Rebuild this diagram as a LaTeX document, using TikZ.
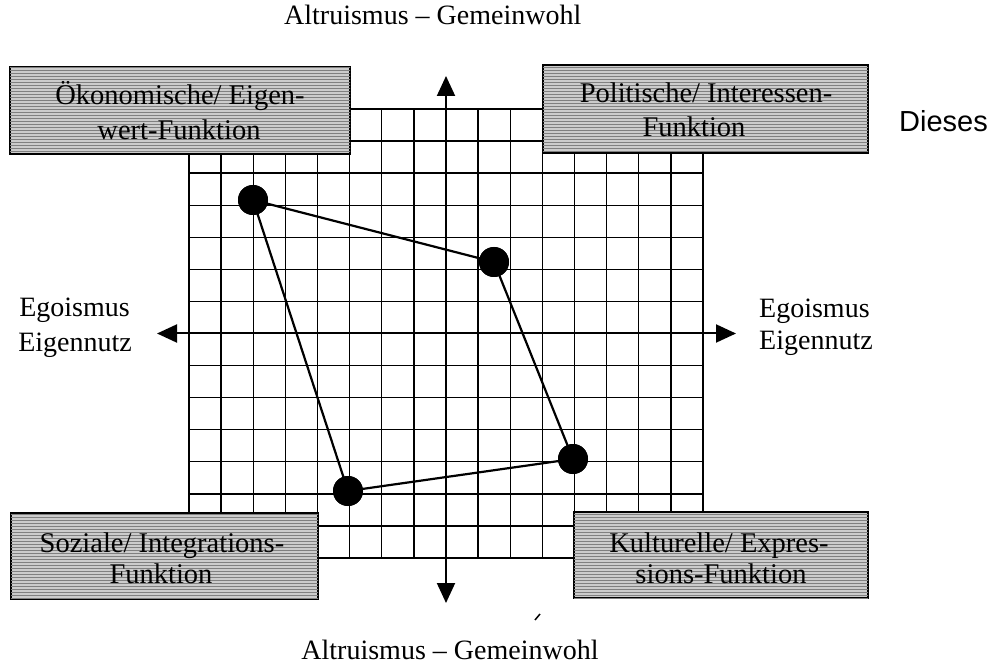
\documentclass[tikz,border=0pt]{standalone}
\usepackage{fontspec}
\setmainfont{Liberation Serif}
\newfontfamily\arialfont{Liberation Sans}
\usetikzlibrary{arrows.meta,patterns}
\begin{document}
\begin{tikzpicture}[x=1pt,y=-1pt,
  gridline/.style={line width=1.4pt,black},
  gridborder/.style={line width=1.9pt,black},
  axisline/.style={line width=2pt,black,{Triangle[length=20pt,width=18pt]}-{Triangle[length=20pt,width=18pt]}},
  funcbox/.style={draw,line width=1.8pt,fill=black!20,
     postaction={pattern=horizontal lines,pattern color=black!50},inner sep=0pt},
  boxtext/.style={font=\fontsize{28.5}{34}\selectfont,anchor=base,inner sep=0pt},
  lbl/.style={font=\fontsize{28}{34}\selectfont,inner sep=0pt},
  dot/.style={circle,fill=black,draw=none,minimum size=30pt,inner sep=0pt},
  poly/.style={line width=2.2pt,black}]
\useasboundingbox (0,0) rectangle (991,668);
% grid
\foreach \k in {1,...,15} \draw[gridline] ({189+32.125*\k},109) -- ({189+32.125*\k},558);
\foreach \j in {1,...,13} \draw[gridline] (189,{109+32.07*\j}) -- (703,{109+32.07*\j});
\draw[gridborder] (189,109) rectangle (703,558);
% axes
\coordinate (xl) at (157,333.5);
\coordinate (xr) at (736,333.5);
\coordinate (yt) at (446,76);
\coordinate (yb) at (446,603);
\draw[axisline] (xl) -- (xr);
\draw[axisline] (yt) -- (yb);
% points and polygon
\node[dot] (p1) at (253,200) {};
\node[dot] (p2) at (494,262) {};
\node[dot] (p3) at (573,459) {};
\node[dot] (p4) at (348,491) {};
\draw[poly] (p1.center) -- (p2.center) -- (p3.center) -- (p4.center) -- cycle;
\node[dot] at (p1) {};
\node[dot] at (p2) {};
\node[dot] at (p3) {};
\node[dot] at (p4) {};
% boxes
\node[funcbox,minimum width=340pt,minimum height=87pt] (ok) at (180,110.5) {};
\node[boxtext] (ok1) at (180,105) {Ökonomische/ Eigen-};
\node[boxtext] (ok2) at (179,140) {wert-Funktion};
\node[funcbox,minimum width=325pt,minimum height=88pt] (po) at (705.5,109) {};
\node[boxtext] (po1) at (706,103) {Politische/ Interessen-};
\node[boxtext] (po2) at (694,137) {Funktion};
\node[funcbox,minimum width=307pt,minimum height=86pt] (so) at (164.5,556) {};
\node[boxtext] (so1) at (162,552) {Soziale/ Integrations-};
\node[boxtext] (so2) at (161,583) {Funktion};
\node[funcbox,minimum width=294pt,minimum height=86pt] (ku) at (721,555) {};
\node[boxtext] (ku1) at (719,552) {Kulturelle/ Expres-};
\node[boxtext] (ku2) at (721,583) {sions-Funktion};
% axis labels
\node[lbl,anchor=base west] (top) at (284,25) {Altruismus – Gemeinwohl};
\node[lbl,anchor=base] (bot) at (450,659) {Altruismus – Gemeinwohl};
\node[lbl,anchor=base east] (l1) at (130,317) {Egoismus};
\node[lbl,anchor=base east] (l2) at (132,352) {Eigennutz};
\node[lbl,anchor=base west] (r1) at (759,318) {Egoismus};
\node[lbl,anchor=base west] (r2) at (759,350) {Eigennutz};
\node[font=\arialfont\fontsize{29}{34}\selectfont,anchor=base west,inner sep=0pt] (dieses) at (899,132) {Dieses};
\draw[line width=1.5pt] (535,620) -- (540,614);
\end{tikzpicture}
\end{document}
